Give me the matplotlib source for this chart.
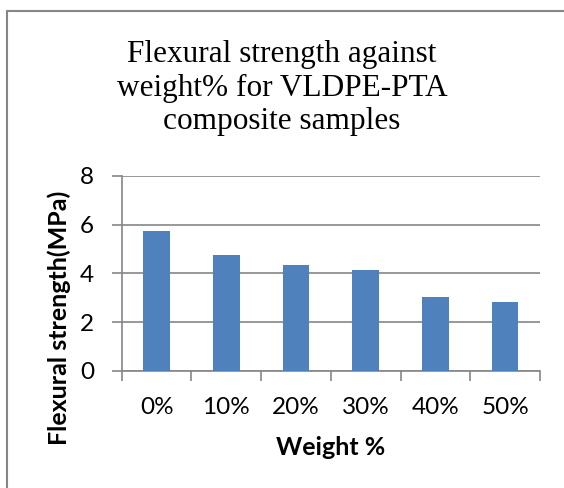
import matplotlib
matplotlib.use("Agg")
import matplotlib.pyplot as plt
from matplotlib.patches import Rectangle
import numpy as np

# flexural strength (MPa) per filler loading
weight_labels = ["0%", "10%", "20%", "30%", "40%", "50%"]
strength = [5.72, 4.77, 4.36, 4.15, 3.05, 2.82]
y_ticks = [0, 2, 4, 6, 8]

bar_color = "#4F81BD"
line_color = "#868686"
sans = ["Lato", "DejaVu Sans"]
serif = ["Liberation Serif", "DejaVu Serif"]

fig = plt.figure(figsize=(5.64, 4.88), dpi=100)
ax = fig.add_axes([0.2158, 0.2398, 0.9574 - 0.2158, 0.640 - 0.2398])

x = np.arange(len(weight_labels))
ax.bar(x, strength, width=0.38, color=bar_color, zorder=3)

ax.set_xlim(-0.5, len(weight_labels) - 0.5)
ax.set_ylim(0, 8)
ax.set_yticks(y_ticks)
ax.set_yticklabels([str(v) for v in y_ticks], fontsize=17.5, family=sans)
ax.yaxis.grid(True, color=line_color, linewidth=1.2, zorder=0)

# category labels sit between boundary ticks, excel-style
ax.set_xticks(np.arange(-0.5, len(weight_labels), 1.0))
ax.set_xticklabels([])
ax.set_xticks(x, minor=True)
ax.set_xticklabels(weight_labels, minor=True, fontsize=17.5, family=sans)
ax.tick_params(axis="x", which="minor", length=0, pad=19)
ax.tick_params(axis="x", which="major", length=7, width=1.2, color=line_color)
ax.tick_params(axis="y", length=7, width=1.2, color=line_color, pad=13)

for side in ["top", "right"]:
    ax.spines[side].set_visible(False)
for side in ["left", "bottom"]:
    ax.spines[side].set_color(line_color)
    ax.spines[side].set_linewidth(1.2)

ax.set_xlabel("Weight %", fontsize=18, fontweight="bold", family=sans, labelpad=13)
fig.text(59 / 564, 1 - 318 / 488, "Flexural strength(MPa)", rotation=90,
         fontsize=18, fontweight="bold", family=sans, ha="center", va="center")

fig.text(0.5, 1 - 88 / 488,
         "Flexural strength against\nweight% for VLDPE-PTA\ncomposite samples",
         fontsize=22.5, family=serif, ha="center", va="center", linespacing=1.22)

# outer chart frame running off the right and bottom edges
fig.patches.append(Rectangle((7 / 564, -0.2), 1.2, 0.2 + (1 - 11 / 488),
                             transform=fig.transFigure, fill=False,
                             edgecolor=line_color, linewidth=1.5))

fig.savefig("out.png", dpi=100)
